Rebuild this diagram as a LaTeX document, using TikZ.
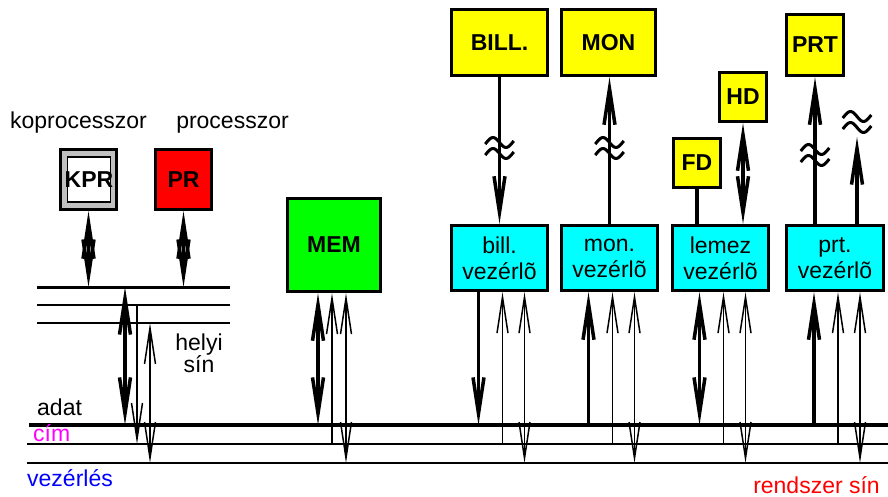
\documentclass[tikz,border=0pt]{standalone}
\usepackage{fontspec}
\setmainfont{Liberation Sans}
\usetikzlibrary{arrows.meta}
\definecolor{kprgray}{HTML}{C0C0C0}
\definecolor{memgreen}{HTML}{00FF00}
\definecolor{devyellow}{HTML}{FFFF00}
\definecolor{ctlcyan}{HTML}{00FFFF}
\definecolor{prred}{HTML}{FF0000}
\definecolor{cimpink}{HTML}{FF00FF}
\definecolor{vezblue}{HTML}{0000FF}
\newcommand\bigtext{\fontsize{23}{26}\selectfont}
\tikzset{
  unit/.style={draw, line width=3.3pt, inner sep=0pt, font=\bigtext\bfseries},
  dev/.style={unit, fill=devyellow},
  ctl/.style={unit, fill=ctlcyan, font=\bigtext, align=center, minimum width=96pt, minimum height=65pt},
  lbl/.style={inner sep=0pt},
  databus/.style={line width=3.6pt},
  busline/.style={line width=2pt},
  wide/.style={line width=3.5pt},
  slim/.style={line width=1.5pt},
  barb/.tip={Straight Barb[length=36pt,width=11pt]},
  brk/.pic={
    \draw[line width=3pt] plot[domain=-1.1:1.1, samples=25, smooth] ({13*\x},{-5.5+5*sin(180*\x)});
    \draw[line width=3pt] plot[domain=-1.1:1.1, samples=25, smooth] ({13*\x},{5.5+5*sin(180*\x)});
  }
}

\begin{document}
\begin{tikzpicture}[x=1pt,y=-1pt,font=\bigtext]
  \useasboundingbox (0,0) rectangle (888,497);

  % rendszer sin
  \coordinate (dataW) at (29,425);  \coordinate (dataE) at (888,425);
  \coordinate (addrW) at (27,444);  \coordinate (addrE) at (888,444);
  \coordinate (ctrlW) at (27,463);  \coordinate (ctrlE) at (888,463);
  \draw[databus] (dataW) -- (dataE);
  \draw[busline] (addrW) -- (addrE);
  \draw[busline] (ctrlW) -- (ctrlE);

  % helyi sin
  \coordinate (ldataW) at (37,287);  \coordinate (ldataE) at (230,287);
  \coordinate (laddrW) at (37,305);  \coordinate (laddrE) at (230,305);
  \coordinate (lctrlW) at (37,323);  \coordinate (lctrlE) at (230,323);
  \draw[line width=3pt] (ldataW) -- (ldataE);
  \draw[busline] (laddrW) -- (laddrE);
  \draw[busline] (lctrlW) -- (lctrlE);

  % egysegek
  \node[unit, fill=kprgray, minimum width=56pt, minimum height=60pt] (kpr) at (88.5,179.5) {};
  \node[draw, line width=1.5pt, fill=white, inner sep=0pt, minimum width=43pt, minimum height=45pt,
        font=\bigtext\bfseries] (kprin) at (89,179.5) {\makebox[0pt]{KPR}};
  \node[unit, fill=prred, minimum width=56pt, minimum height=60pt] (pr) at (183.5,179.5) {PR};
  \node[unit, fill=memgreen, minimum width=93pt, minimum height=93pt] (mem) at (334,245) {MEM};

  \node[dev, minimum width=96pt, minimum height=66pt] (bill) at (499.5,42.5) {BILL.};
  \node[dev, minimum width=94pt, minimum height=66pt] (mon) at (608.5,42.5) {MON};
  \node[dev, minimum width=57pt, minimum height=61pt] (prt) at (815,45) {PRT};
  \node[dev, minimum width=47pt, minimum height=49pt] (hd) at (743,97) {HD};
  \node[dev, minimum width=47pt, minimum height=49pt] (fd) at (697,163) {FD};

  \node[ctl] (vbill) at (499.5,258) {bill.\\vezérlõ};
  \node[ctl] (vmon) at (609.5,258) {mon.\\vezérlõ};
  \node[ctl] (vlemez) at (720.5,258) {lemez\\vezérlõ};
  \node[ctl, minimum width=97pt] (vprt) at (835,258) {prt.\\vezérlõ};

  % feliratok
  \node[lbl, anchor=base] (kprlbl) at (78.5,129) {koprocesszor};
  \node[lbl, anchor=base] (prlbl) at (232.5,129) {processzor};
  \node[lbl, align=center, font=\fontsize{23}{22}\selectfont] (helyi) at (199,353) {helyi\\sín};
  \node[lbl, anchor=base west] (adat) at (37,415) {adat};
  \node[lbl, anchor=base west, text=cimpink] (cim) at (33,441) {cím};
  \node[lbl, anchor=base west, text=vezblue] (vez) at (27,486) {vezérlés};
  \node[lbl, anchor=base east, text=prred] (rsin) at (880,493) {rendszer sín};

  % processzor oldal
  \draw[wide, barb-barb] (kpr.south) -- (kpr.south |- ldataW);
  \draw[wide, barb-barb] (pr.south) -- (pr.south |- ldataW);
  \coordinate (lbd) at (125,287);
  \coordinate (lba) at (137,305);
  \coordinate (lbc) at (150,323);
  \draw[wide, barb-barb] (lbd) -- (lbd |- dataW);
  \draw[slim, -barb] (lba) -- (lba |- addrW);
  \draw[slim, barb-barb] (lbc) -- (lbc |- ctrlW);

  % memoria es vezerlok a rendszer sinen
  \foreach \u/\dd/\da/\dc/\tip in {mem/-16/-2/12/barb-barb, vbill/-21/3/25/-barb,
      vmon/-21/3/25/barb-, vlemez/-21/3/25/barb-barb, vprt/-21/3/25/barb-}{
    \draw[wide, \tip] ([xshift=\dd pt]\u.south) -- ([xshift=\dd pt]\u.south |- dataW);
    \draw[slim, barb-] ([xshift=\da pt]\u.south) -- ([xshift=\da pt]\u.south |- addrW);
    \draw[slim, barb-barb] ([xshift=\dc pt]\u.south) -- ([xshift=\dc pt]\u.south |- ctrlW);
  }

  % periferiak
  \draw[wide, -barb] (bill.south) -- (bill.south |- vbill.north);
  \draw[wide, -barb] (vmon.north) -- (vmon.north |- mon.south);
  \draw[wide] (fd.south) -- (fd.south |- vlemez.north);
  \draw[wide, barb-barb] (hd.south) -- (hd.south |- vlemez.north);
  \draw[wide, -barb] (prt.south |- vprt.north) -- (prt.south);
  \coordinate (prtfree) at (857,137);
  \draw[wide, -barb] (prtfree |- vprt.north) -- (prtfree);

  \pic at (499.5,148) {brk};
  \pic at (609.5,148) {brk};
  \pic at (815,155) {brk};
  \pic at (857,122) {brk};
\end{tikzpicture}
\end{document}
